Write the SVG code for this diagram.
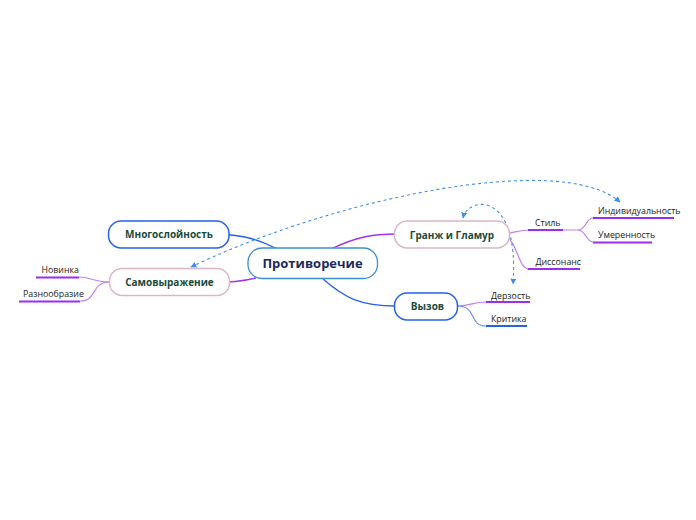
<svg xmlns="http://www.w3.org/2000/svg" width="696" height="520" viewBox="0 0 696 520">
<defs>
<style>
.node{fill:#fff;}
.blue{stroke:#2562ea;stroke-width:1.5;}
.pink{stroke:#ddb6c6;stroke-width:1.5;}
.center{stroke:#3b8fd4;stroke-width:1.3;}
.nt{font-family:"Open Sans","Noto Sans",sans-serif;font-weight:bold;font-size:10px;fill:#1a4a3a;}
.ct{font-family:"Open Sans","Noto Sans",sans-serif;font-weight:bold;font-size:13px;fill:#1b2a5c;}
.lt{font-family:"Open Sans","Noto Sans",sans-serif;font-size:8.8px;fill:#222;}
.cb{fill:none;stroke:#2562ea;stroke-width:1.3;}
.cp{fill:none;stroke:#a033ee;stroke-width:1.3;}
.cpl{fill:none;stroke:#c080f4;stroke-width:1.2;}
.cbl{fill:none;stroke:#6d8ff0;stroke-width:1.2;}
.ulp{fill:none;stroke:#9d2cee;stroke-width:2;}
.ulb{fill:none;stroke:#2562ea;stroke-width:2;}
.dash{fill:none;stroke:#3d8fe8;stroke-width:1.1;stroke-dasharray:3 3;}
</style>
<marker id="arr" viewBox="0 0 10 10" refX="9" refY="5" markerWidth="6" markerHeight="6" orient="auto-start-reverse" markerUnits="userSpaceOnUse">
<path d="M0,0 L10,5 L0,10 z" fill="#3d8fe8"/>
</marker>
</defs>
<g id="connectors">
<path class="cb" d="M216 234 C245 235 260 240 277 249"/>
<path class="cp" d="M256 278 C240 282 230 282 215 282"/>
<path class="cp" d="M333 248 C355 238 370 234 397 234"/>
<path class="cb" d="M323 279 C345 298 360 306 396 306"/>
<path class="cpl" d="M497 234 C515 234 515 230 530 230"/>
<path class="cpl" d="M497 234 C520 234 515 269 530 269"/>
<path class="cpl" d="M562 230 L578 230 C586 230 586 218 593 218"/>
<path class="cpl" d="M578 230 C586 230 586 242 593 242"/>
<path class="cpl" d="M457 306 C472 306 472 302 486 302"/>
<path class="cbl" d="M457 306 C478 306 468 326 486 326"/>
<path class="cpl" d="M110 282 C92 282 92 277 79 277"/>
<path class="cpl" d="M110 282 C90 282 98 301 80 301"/>
<path class="ulp" d="M528 230 L563 230"/>
<path class="ulp" d="M593 218 L674 218"/>
<path class="ulp" d="M593 242.5 L652 242.5"/>
<path class="ulp" d="M528 269 L580 269"/>
<path class="ulp" d="M486 302 L530 302"/>
<path class="ulb" d="M486 326 L527 326"/>
<path class="ulp" d="M36 277.5 L79 277.5"/>
<path class="ulp" d="M19 301.5 L80 301.5"/>
<path class="dash" d="M191 267 C330 200 560 150 620 202" marker-start="url(#arr)" marker-end="url(#arr)"/>
<path class="dash" d="M463 218 C468 196 520 190 513 284" marker-start="url(#arr)" marker-end="url(#arr)"/>
</g>
<g id="n-center">
<rect class="node center" x="248" y="248" width="129.5" height="30.5" rx="14"/>
<text class="ct" x="312.5" y="268" text-anchor="middle">Противоречие</text>
</g>
<g id="n-mnogosloinost">
<rect class="node blue" x="108.5" y="221" width="120.5" height="27" rx="12.5"/>
<text class="nt" x="169" y="238" text-anchor="middle">Многослойность</text>
</g>
<g id="n-samovyrazhenie">
<rect class="node pink" x="109.5" y="268.5" width="120" height="27" rx="12.5"/>
<text class="nt" x="169.5" y="285.5" text-anchor="middle">Самовыражение</text>
</g>
<g id="n-granzh">
<rect class="node pink" x="394.5" y="221" width="115" height="27" rx="12.5"/>
<text class="nt" x="452" y="238.5" text-anchor="middle">Гранж и Гламур</text>
</g>
<g id="n-vyzov">
<rect class="node blue" x="394.5" y="293" width="63" height="27" rx="12.5"/>
<text class="nt" x="427.5" y="309.5" text-anchor="middle">Вызов</text>
</g>
<g id="n-stil"><text class="lt" x="535" y="226">Стиль</text></g>
<g id="n-individ"><text class="lt" x="598" y="214">Индивидуальность</text></g>
<g id="n-umerennost"><text class="lt" x="598" y="238">Умеренность</text></g>
<g id="n-dissonans"><text class="lt" x="535.5" y="265">Диссонанс</text></g>
<g id="n-derzost"><text class="lt" x="491" y="298.5">Дерзость</text></g>
<g id="n-kritika"><text class="lt" x="491" y="322">Критика</text></g>
<g id="n-novinka"><text class="lt" x="41.5" y="272.5">Новинка</text></g>
<g id="n-raznoobrazie"><text class="lt" x="23" y="297">Разнообразие</text></g>
</svg>
